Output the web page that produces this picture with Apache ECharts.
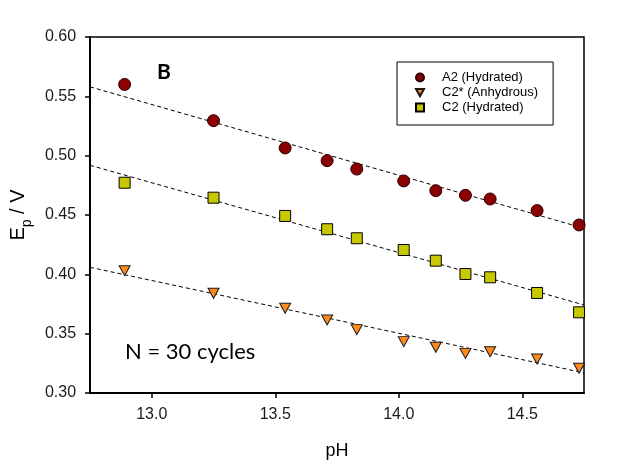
<!DOCTYPE html>
<html>
<head>
<meta charset="utf-8">
<script src="https://cdn.jsdelivr.net/npm/echarts@6/dist/echarts.min.js"></script>
<style>
html,body{margin:0;padding:0;background:#fff;}
#chart{width:618px;height:466px;}
</style>
</head>
<body>
<div id="chart"></div>
<script>
// pH values (x) shared by all series
var ph = [12.89, 13.25, 13.54, 13.71, 13.83, 14.02, 14.15, 14.27, 14.37, 14.56, 14.73];
// Peak potentials Ep / V
var a2Hydrated = [0.560, 0.5295, 0.5065, 0.4958, 0.4887, 0.4787, 0.4705, 0.4666, 0.4635, 0.4537, 0.4416];
var c2StarAnhydrous = [0.4031, 0.3840, 0.3714, 0.3615, 0.3534, 0.3433, 0.3385, 0.3334, 0.3348, 0.3287, 0.3208];
var c2Hydrated = [0.4772, 0.4646, 0.4492, 0.4380, 0.4304, 0.4205, 0.4115, 0.4003, 0.3975, 0.3843, 0.3680];
// Linear fit lines (read at the plot's left and right edges)
var fitX = [12.75, 14.75];
var fitA2 = [0.558, 0.4388];
var fitC2Star = [0.4059, 0.3170];
var fitC2 = [0.4919, 0.3742];
// Tick labels
var xTicks = [13.0, 13.5, 14.0, 14.5];
var seriesNames = ['A2 (Hydrated)', 'C2* (Anhydrous)', 'C2 (Hydrated)'];

function pairs(xs, ys){ return xs.map(function(x,i){ return [x, ys[i]]; }); }

var downTriangle = 'path://M0,0 L10,0 L5,9 Z';
var chart = echarts.init(document.getElementById('chart'), null, {renderer:'canvas'});
var fitStyle = {color:'#000', width:1, type:[4,3]};
var option = {
  backgroundColor:'#fff',
  animation:false,
  grid:{left:88, right:34, top:37, bottom:73, show:true, borderColor:'#000', borderWidth:1.5, backgroundColor:'transparent'},
  legend:{
    orient:'vertical', left:397, top:62,
    data:[{name:seriesNames[0], icon:'circle'}, {name:seriesNames[1], icon:downTriangle}, {name:seriesNames[2], icon:'rect'}],
    itemWidth:8, itemHeight:8, itemGap:0,
    padding:[8,15,10,18],
    borderColor:'#000', borderWidth:1,
    textStyle:{fontFamily:'Liberation Sans, Arial, sans-serif', fontSize:13, color:'#000', lineHeight:15, padding:[0,0,0,13]}
  },
  xAxis:{
    type:'value', min:12.75, max:14.75,
    name:'pH', nameLocation:'middle', nameGap:49,
    nameTextStyle:{fontFamily:'Liberation Sans, Arial, sans-serif', fontSize:18, color:'#000'},
    axisLine:{show:true, lineStyle:{color:'#000', width:2}},
    axisTick:{show:true, inside:false, length:5, lineStyle:{color:'#000', width:1.5}, customValues:xTicks},
    axisLabel:{fontFamily:'Liberation Sans, Arial, sans-serif', fontSize:16, color:'#1a1a1a', margin:14, customValues:xTicks,
      formatter:function(v){ return v.toFixed(1); }},
    splitLine:{show:false}
  },
  yAxis:{
    type:'value', min:0.30, max:0.60, interval:0.05,
    name:'{a|E}{b|p}{a| / V}', nameLocation:'middle', nameGap:58,
    nameTextStyle:{fontFamily:'Liberation Sans, Arial, sans-serif', color:'#000',
      rich:{
        a:{fontFamily:'Liberation Sans, Arial, sans-serif', fontSize:20, color:'#000', verticalAlign:'bottom', lineHeight:23},
        b:{fontFamily:'Liberation Sans, Arial, sans-serif', fontSize:14, color:'#000', verticalAlign:'bottom', lineHeight:23, padding:[0,0,-6,0]}
      }},
    axisLine:{show:true, lineStyle:{color:'#000', width:2}},
    axisTick:{show:true, inside:false, length:5, lineStyle:{color:'#000', width:1.5}},
    axisLabel:{fontFamily:'Liberation Sans, Arial, sans-serif', fontSize:16, color:'#1a1a1a', margin:14,
      formatter:function(v){ return v.toFixed(2); }},
    splitLine:{show:false}
  },
  series:[
    {type:'line', data:pairs(fitX, fitA2), symbol:'none', lineStyle:fitStyle, silent:true, z:1},
    {type:'line', data:pairs(fitX, fitC2Star), symbol:'none', lineStyle:fitStyle, silent:true, z:1},
    {type:'line', data:pairs(fitX, fitC2), symbol:'none', lineStyle:fitStyle, silent:true, z:1},
    {name:seriesNames[0], type:'scatter', data:pairs(ph, a2Hydrated), symbol:'circle', symbolSize:12,
      itemStyle:{color:'#8b0000', borderColor:'#2a0000', borderWidth:1, opacity:1}, z:3},
    {name:seriesNames[1], type:'scatter', data:pairs(ph, c2StarAnhydrous), symbol:'triangle', symbolRotate:180, symbolSize:[11,10],
      itemStyle:{color:'#ff8a1c', borderColor:'#1a1a1a', borderWidth:1, opacity:1}, z:3},
    {name:seriesNames[2], type:'scatter', data:pairs(ph, c2Hydrated), symbol:'rect', symbolSize:11,
      itemStyle:{color:'#c8c800', borderColor:'#000', borderWidth:1, opacity:1}, z:3}
  ],
  graphic:[
    {type:'text', left:157, top:62, style:{text:'B', fontFamily:'Lato, sans-serif', fontWeight:'bold', fontSize:21, fill:'#000'}},
    {type:'text', left:125, top:341, style:{text:'N = 30 cycles', fontFamily:'Lato, sans-serif', fontSize:22, fill:'#000'}}
  ]
};
chart.setOption(option);
</script>
</body>
</html>
